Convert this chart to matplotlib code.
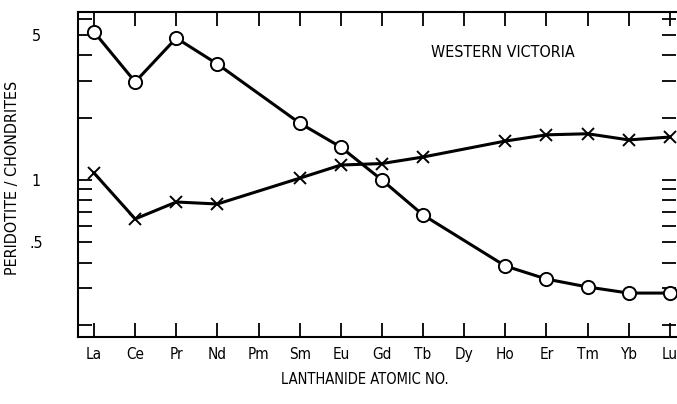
import matplotlib
matplotlib.use('Agg')
import matplotlib.pyplot as plt
from matplotlib.ticker import FixedLocator, FixedFormatter, NullLocator

plt.rcParams['font.family'] = ['DejaVu Sans']
plt.rcParams['font.stretch'] = 'condensed'

# REE abundances normalised to chondrites (Pm and Dy not measured)
elements = ['La', 'Ce', 'Pr', 'Nd', 'Pm', 'Sm', 'Eu', 'Gd', 'Tb', 'Dy',
            'Ho', 'Er', 'Tm', 'Yb', 'Lu']
circle_elems = ['La', 'Ce', 'Pr', 'Nd', 'Sm', 'Eu', 'Gd', 'Tb', 'Ho',
                'Er', 'Tm', 'Yb', 'Lu']
circle_vals = [5.17, 2.97, 4.83, 3.62, 1.88, 1.44, 1.0, 0.678, 0.385,
               0.333, 0.305, 0.285, 0.285]
cross_elems = ['La', 'Ce', 'Pr', 'Nd', 'Sm', 'Eu', 'Gd', 'Tb', 'Ho',
               'Er', 'Tm', 'Yb', 'Lu']
cross_vals = [1.08, 0.649, 0.783, 0.766, 1.02, 1.18, 1.2, 1.29, 1.54,
              1.65, 1.67, 1.56, 1.61]

y_ticks = [0.2, 0.3, 0.4, 0.5, 0.6, 0.7, 0.8, 0.9, 1, 2, 3, 4, 5, 6]
y_labels = {0.5: '.5', 1: '1', 5: '5'}

fig = plt.figure(figsize=(6.77, 4.04), dpi=100)
ax = fig.add_axes([0.1152, 0.1658, 0.8833, 0.8045])

xc = [elements.index(e) for e in circle_elems]
xx = [elements.index(e) for e in cross_elems]

ax.plot(xx, cross_vals, color='black', lw=2.2, marker='x', ms=9,
        mew=1.4, zorder=3)
ax.plot(xc, circle_vals, color='black', lw=2.2, marker='o', ms=9.5,
        mfc='white', mec='black', mew=1.4, zorder=4)

ax.set_yscale('log')
ax.set_xlim(-0.39, 14.15)
ax.set_ylim(0.175, 6.45)

ax.set_xticks(range(len(elements)))
ax.set_xticklabels(elements, fontsize=11)
ax.yaxis.set_major_locator(FixedLocator(y_ticks))
ax.yaxis.set_major_formatter(FixedFormatter([y_labels.get(v, '') for v in y_ticks]))
ax.yaxis.set_minor_locator(NullLocator())

ax.tick_params(axis='x', direction='in', length=10, width=1.3,
               top=True, bottom=True, pad=7)
ax.tick_params(axis='y', direction='in', length=10, width=1.3,
               left=True, right=True, labelsize=11.5, pad=30)
for lbl in ax.get_yticklabels():
    lbl.set_horizontalalignment('center')

ax.spines['right'].set_visible(False)
for s in ['left', 'bottom', 'top']:
    ax.spines[s].set_linewidth(1.5)

ax.set_xlabel('LANTHANIDE ATOMIC NO.', fontsize=10.5, va='center')
ax.xaxis.set_label_coords(0.48, -0.13)
ax.set_ylabel('PERIDOTITE / CHONDRITES', fontsize=11.5, va='center')
ax.yaxis.set_label_coords(-0.109, 0.49)
ax.text(0.711, 0.874, 'WESTERN VICTORIA', transform=ax.transAxes,
        fontsize=11.5, ha='center', va='center')

fig.savefig('out.png', dpi=100)
